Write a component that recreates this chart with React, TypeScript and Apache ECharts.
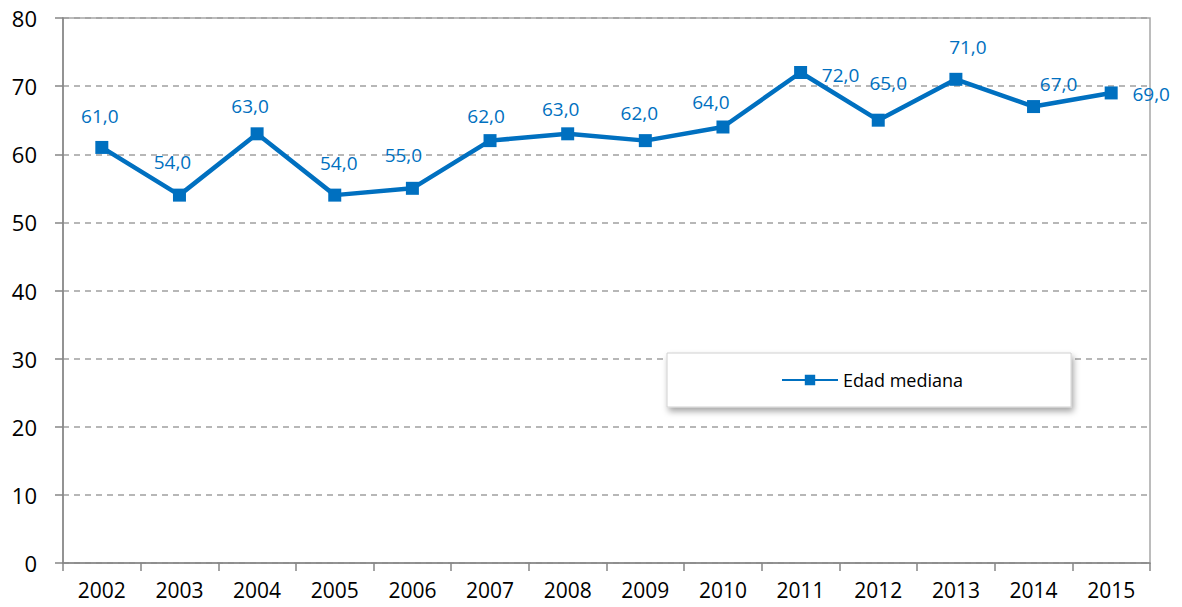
import React, { useEffect, useRef } from "react";
import * as echarts from "echarts";

const years = ["2002", "2003", "2004", "2005", "2006", "2007", "2008", "2009", "2010", "2011", "2012", "2013", "2014", "2015"];
const edadMediana = [61, 54, 63, 54, 55, 62, 63, 62, 64, 72, 65, 71, 67, 69];
const yTicks = [0, 10, 20, 30, 40, 50, 60, 70, 80];
const seriesName = "Edad mediana";

// label placement (pixel offsets of each value label from its point)
const labelOffsets: [number, number][] = [
  [-2, -31], [-7, -33], [-7, -28], [4, -32], [-9, -33], [-4, -25], [-7, -25],
  [-6, -28], [-12, -25], [40, 2], [10, -37], [12, -32], [25, -23], [40, 1],
];

const BLUE = "#0070C0";
const FONT = "'Open Sans', 'Noto Sans', sans-serif";

export default function App() {
  const ref = useRef<HTMLDivElement>(null);
  useEffect(() => {
    document.body.style.margin = "0";
    if (!ref.current) return;
    const chart = echarts.init(ref.current, undefined, { renderer: "svg" });
    chart.setOption({
      animation: false,
      backgroundColor: "#ffffff",
      textStyle: { fontFamily: FONT },
      grid: {
        left: 63,
        top: 18,
        right: 32,
        bottom: 44,
        show: true,
        borderColor: "#A6A6A6",
        borderWidth: 1.5,
      },
      legend: {
        left: 667,
        top: 353,
        data: [seriesName],
        padding: [18, 108, 18, 114],
        itemWidth: 56,
        itemHeight: 13,
        itemGap: 4,
        backgroundColor: "#ffffff",
        borderColor: "#D0D0D0",
        borderWidth: 1,
        shadowColor: "rgba(0,0,0,0.35)",
        shadowBlur: 6,
        shadowOffsetX: 2,
        shadowOffsetY: 4,
        textStyle: { fontSize: 18, color: "#000000", fontFamily: FONT },
      },
      xAxis: {
        type: "category",
        data: years,
        boundaryGap: true,
        axisLine: { lineStyle: { color: "#868686", width: 1.5 } },
        axisTick: { show: true, length: 8, alignWithLabel: false, lineStyle: { color: "#868686", width: 1.5 } },
        axisLabel: { fontSize: 21, color: "#000000", margin: 16, fontFamily: FONT },
      },
      yAxis: {
        type: "value",
        min: yTicks[0],
        max: yTicks[yTicks.length - 1],
        interval: 10,
        axisLine: { show: true, lineStyle: { color: "#868686", width: 1.5 } },
        axisTick: { show: true, length: 8, lineStyle: { color: "#868686", width: 1.5 } },
        axisLabel: { fontSize: 22, color: "#000000", margin: 26, fontFamily: FONT },
        splitLine: { show: true, lineStyle: { color: "#A0A0A0", type: [6, 5], width: 1.5 } },
      },
      series: [
        {
          name: seriesName,
          type: "line",
          data: edadMediana.map((v, i) => ({
            value: v,
            label: { offset: labelOffsets[i] },
          })),
          symbol: "rect",
          symbolSize: 13,
          lineStyle: { color: BLUE, width: 4.5 },
          itemStyle: { color: BLUE },
          label: {
            show: true,
            position: "inside",
            color: BLUE,
            fontSize: 19,
            fontFamily: FONT,
            formatter: (p: any) => Number(p.value).toFixed(1).replace(".", ","),
          },
        },
      ],
    });
    return () => chart.dispose();
  }, []);
  return <div ref={ref} style={{ width: 1182, height: 607 }} />;
}
